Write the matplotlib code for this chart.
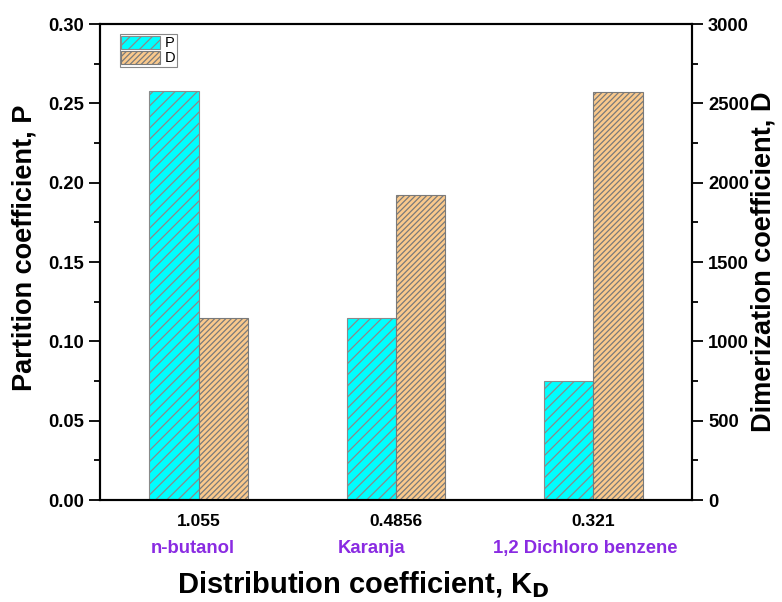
import numpy as np
import matplotlib
matplotlib.use("Agg")
import matplotlib.pyplot as plt
from matplotlib.ticker import MultipleLocator
from matplotlib.transforms import blended_transform_factory

plt.rcParams['font.family'] = ['Liberation Sans', 'DejaVu Sans']
plt.rcParams['hatch.linewidth'] = 0.9

# data
kd_labels = ['1.055', '0.4856', '0.321']
solvents = ['n-butanol', 'Karanja', '1,2 Dichloro benzene']
p_values = [0.258, 0.1145, 0.075]
d_values = [1145, 1920, 2573]

x = np.arange(1, len(kd_labels) + 1)
width = 0.25

fig = plt.figure(figsize=(7.82, 6.02), dpi=100)
ax = fig.add_axes([0.1279, 0.1694, 0.7570, 0.7907])
ax2 = ax.twinx()

bp = ax.bar(x - width / 2, p_values, width, color='#00FFFF', edgecolor='#8a8a8a',
            hatch='///', linewidth=0.8, label='P')
bd = ax2.bar(x + width / 2, d_values, width, color='#FAC98C', edgecolor='#7a7a7a',
             hatch='//////', linewidth=0.8, label='D')

ax.set_xlim(0.5, 3.5)
ax.set_ylim(0, 0.30)
ax2.set_ylim(0, 3000)

ax.yaxis.set_major_locator(MultipleLocator(0.05))
ax.yaxis.set_minor_locator(MultipleLocator(0.025))
ax2.yaxis.set_major_locator(MultipleLocator(500))
ax2.yaxis.set_minor_locator(MultipleLocator(250))
ax.yaxis.set_major_formatter(plt.FormatStrFormatter('%.2f'))

ax.set_xticks(x)
ax.set_xticklabels(kd_labels)
ax.tick_params(axis='x', length=0, pad=10)
for a in (ax, ax2):
    a.tick_params(axis='y', which='major', direction='out', length=8, width=1.3)
    a.tick_params(axis='y', which='minor', direction='out', length=4, width=1.3)
    for s in a.spines.values():
        s.set_linewidth(1.5)
for lab in ax.get_xticklabels():
    lab.set_fontsize(12.5)
    lab.set_fontweight('bold')
for lab in ax.get_yticklabels() + ax2.get_yticklabels():
    lab.set_fontsize(13.2)
    lab.set_fontweight('bold')

trans = blended_transform_factory(ax.transData, ax.transAxes)
offsets = [-0.03, -0.125, -0.04]
for xi, name, off in zip(x, solvents, offsets):
    ax.text(xi + off, -0.102, name, transform=trans, ha='center', va='center',
            fontsize=13.3, fontweight='bold', color='#8A2BE2')

ax.set_ylabel('Partition coefficient, P', fontsize=19.5, fontweight='bold')
ax.yaxis.set_label_coords(-0.106, 0.53)
ax2.set_ylabel('Dimerization coefficient, D', fontsize=19.5, fontweight='bold', labelpad=1)
ax.set_xlabel('Distribution coefficient, K$_\\mathbf{D}$', fontsize=21, fontweight='bold')
ax.xaxis.set_label_coords(0.445, -0.145)

leg = ax.legend([bp, bd], ['P', 'D'], loc='upper left', bbox_to_anchor=(0.028, 0.985),
                fontsize=10.5, handlelength=2.7, handleheight=1.0, handletextpad=0.3,
                borderpad=0.1, labelspacing=0.05, fancybox=False, framealpha=1,
                edgecolor='#888888', borderaxespad=0.2)
leg.get_frame().set_linewidth(0.8)

fig.savefig('out.png', dpi=100)
